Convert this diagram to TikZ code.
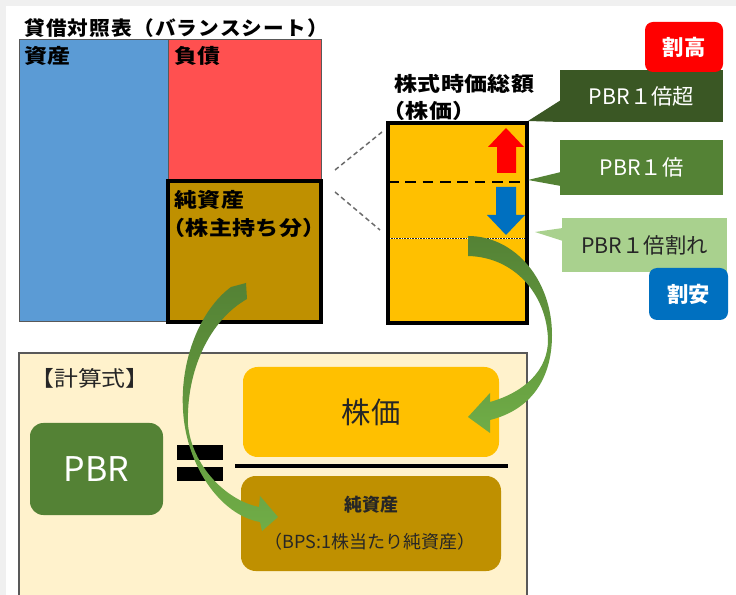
\documentclass[tikz,border=0pt]{standalone}
\usepackage{fontspec}
\usetikzlibrary{fit}
\newfontfamily\jp{Noto Sans CJK JP}
\definecolor{cbg}{HTML}{F0F0F0}
\definecolor{cblue}{HTML}{5B9BD5}
\definecolor{cred}{HTML}{FF5050}
\definecolor{cbrown}{HTML}{BF9000}
\definecolor{cgold}{HTML}{FFC000}
\definecolor{cdkgreen}{HTML}{3A5724}
\definecolor{cgreen}{HTML}{548235}
\definecolor{cltgreen}{HTML}{A9D18E}
\definecolor{cbtnred}{HTML}{FF0000}
\definecolor{cbtnblue}{HTML}{0070C0}
\definecolor{ccream}{HTML}{FFF2CC}
\definecolor{carrowlt}{HTML}{70AD47}
\definecolor{cline}{HTML}{595959}
\definecolor{ctext}{HTML}{262626}
\tikzset{
  area/.style={inner sep=0pt, outer sep=0pt},
  sheetlbl/.style={inner sep=0pt, anchor=west, text=black,
    font=\jp\bfseries\fontsize{15}{16}\selectfont\addfontfeatures{FakeStretch=1.15,LetterSpace=2}},
  calltext/.style={inner sep=0pt, font=\jp\fontsize{16}{18}\selectfont},
  btn/.style={area, rounded corners=6pt},
  btntext/.style={inner sep=0pt, text=white, font=\jp\bfseries\fontsize{16}{18}\selectfont},
  conn/.style={draw=cline!90, line width=1.1pt, dash pattern=on 3.5pt off 2.5pt},
  curvearrow/.style={top color=cgreen, bottom color=carrowlt},
}
\begin{document}
\begin{tikzpicture}[x=0.75pt,y=-0.75pt]
\useasboundingbox (0,0) rectangle (736,595);
\fill[cbg] (0,0) rectangle (736,595);
\fill[white] (6,6) rectangle (736,595);

% ---- balance sheet ----
\node[inner sep=0pt, anchor=west, font=\jp\bfseries\fontsize{14.6}{16}\selectfont\addfontfeatures{FakeStretch=1.06,LetterSpace=6}] (bstitle) at (24,28) {貸借対照表（バランスシート）};
\node[area, fit={(19,40) (168,322)}, fill=cblue, draw=cline, line width=0.75pt] (assets) {};
\node[area, fit={(168,40) (321,181)}, fill=cred, draw=cline, line width=0.75pt] (liab) {};
\node[area, fit={(168,181) (321,322)}, fill=cbrown, draw=black, line width=2.4pt] (equity) {};
\node[sheetlbl] (tasset) at (24,56) {資産};
\node[sheetlbl] (tliab) at (174,56) {負債};
\node[sheetlbl] (tequity) at (174,200) {純資産};
\node[sheetlbl] (tholder) at (162,228) {（株主持ち分）};

% ---- market cap column ----
\node[sheetlbl] (tmcap) at (394,84) {株式時価総額};
\node[sheetlbl] (tprice) at (382,111) {（株価）};
\node[area, fit={(388,123) (527,323)}, fill=cgold] (mcap) {};
\coordinate (dashL) at (388,182); \coordinate (dashR) at (527,182);
\coordinate (dotL) at (390,238.5); \coordinate (dotR) at (526,238.5);
\draw[line width=1.2pt, black!85] (dotL) -- (dotR);
\draw[line width=0.8pt, white, dash pattern=on 0.8pt off 1.2pt] (dotL) -- (dotR);
\node[area, fit={(388,123) (527,323)}, draw=black, line width=2.4pt] (mcapframe) {};
\draw[line width=2.2pt, black, dash pattern=on 8pt off 5pt] (dashL) -- (dashR);
\fill[cbtnred] (497,173) -- (497,147) -- (488,147) -- (506,128) -- (524,147) -- (516,147) -- (516,173) -- cycle;
\fill[cbtnblue] (496,187) -- (516,187) -- (516,215) -- (525,215) -- (506,235) -- (487,215) -- (496,215) -- cycle;

% dashed guides
\coordinate (g1a) at (335,170); \coordinate (g1b) at (382,132);
\coordinate (g2a) at (335,192); \coordinate (g2b) at (380,230);
\draw[conn] (g1a) -- (g1b);
\draw[conn] (g2a) -- (g2b);

% ---- callouts ----
\node[area, fit={(560,70) (723,122)}, fill=cdkgreen] (cover) {};
\fill[cdkgreen] (561,100) -- (528,121) -- (561,122) -- cycle;
\node[calltext, text=white] (tover) at (cover.center) {PBR１倍超};
\node[area, fit={(560,140) (723,195)}, fill=cgreen] (cone) {};
\fill[cgreen] (561,172) -- (528,180) -- (561,186) -- cycle;
\node[calltext, text=white] (tone) at (cone.center) {PBR１倍};
\node[area, fit={(562,218) (727,272)}, fill=cltgreen] (cunder) {};
\fill[cltgreen] (563,228) -- (535,232) -- (563,241) -- cycle;
\node[calltext, text=ctext] (tunder) at (cunder.center) {PBR１倍割れ};
\node[btn, fit={(645,22) (723,72)}, fill=cbtnred] (expensive) {};
\node[btntext] (texp) at (expensive.center) {割高};
\node[btn, fit={(649,268) (728,320)}, fill=cbtnblue] (cheap) {};
\node[btntext] (tcheap) at (cheap.center) {割安};

% ---- formula panel ----
\node[area, fit={(19,353) (527,610)}, fill=ccream, draw=cline, line width=0.9pt] (panel) {};
\node[inner sep=0pt, anchor=west, text=ctext, font=\jp\fontsize{16}{18}\selectfont\addfontfeatures{FakeStretch=1.12}] (tcalc) at (30,378) {【計算式】};
\node[area, fit={(30,423) (163,515)}, fill=cgreen, rounded corners=10pt] (pbr) {};
\node[inner sep=0pt, text=white, font=\jp\fontsize{25.5}{28}\selectfont] (tpbr) at (pbr.center) {PBR};
\node[area, fit={(177,445) (223,460)}, fill=black] (eqtop) {};
\node[area, fit={(177,467) (223,481)}, fill=black] (eqbot) {};
\coordinate (fracL) at (235,466); \coordinate (fracR) at (508,466);
\draw[line width=2.4pt, black] (fracL) -- (fracR);
\node[area, fit={(243,367) (499,457)}, fill=cgold, rounded corners=11pt] (price) {};
\node[inner sep=0pt, text=ctext, font=\jp\fontsize{22}{24}\selectfont] (tpricebox) at (price.center) {株価};
\node[area, fit={(241,476) (501,571)}, fill=cbrown, rounded corners=11pt] (bps) {};
\node[inner sep=0pt, text=ctext, font=\jp\bfseries\fontsize{13.5}{15}\selectfont] (tbps1) at (371,505) {純資産};
\node[inner sep=0pt, text=ctext, font=\jp\fontsize{13.5}{15}\selectfont] (tbps2) at (370,542) {（BPS:1株当たり純資産）};

% ---- curved arrows ----
\shade[curvearrow] (231,287) -- (246,283) -- (247,299)
  .. controls (210,320) and (186,370) .. (188,425)
  .. controls (192,465) and (225,500) .. (259,507)
  -- (260,496) -- (278,517) -- (262,531) -- (260,522)
  .. controls (220,515) and (186,465) .. (183,410)
  .. controls (180,360) and (200,310) .. (231,287) -- cycle;
\shade[curvearrow] (468,236)
  .. controls (515,236) and (552,280) .. (552,335)
  .. controls (552,380) and (530,410) .. (490,420)
  -- (490,433) -- (468,417) -- (490,393) -- (490,402)
  .. controls (525,392) and (548,370) .. (548,340)
  .. controls (547,295) and (515,257) .. (468,256) -- cycle;
\end{tikzpicture}
\end{document}
